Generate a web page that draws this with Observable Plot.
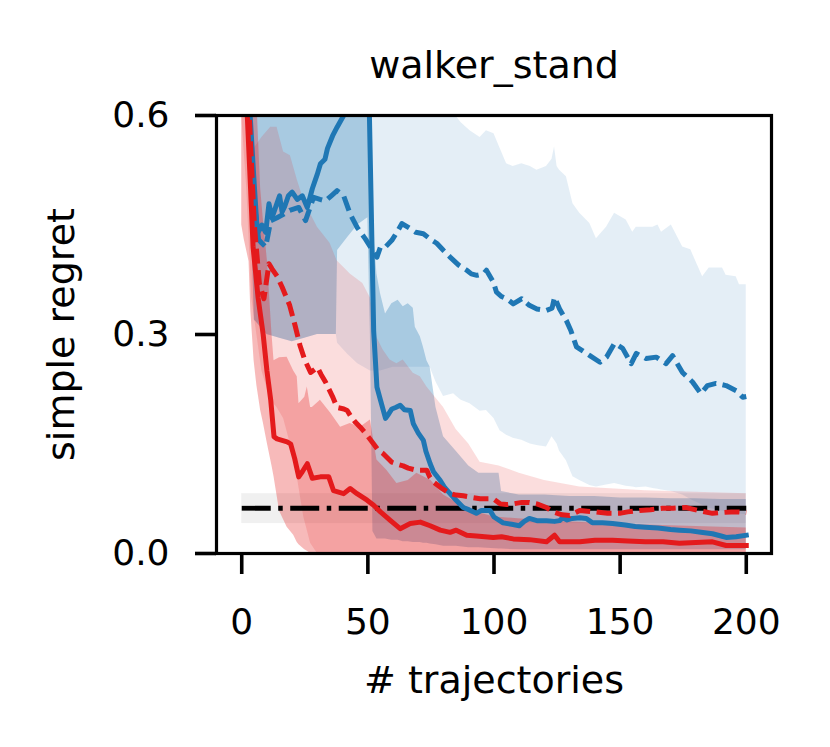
<!DOCTYPE html>
<html><head><meta charset="utf-8">
<script src="https://cdn.jsdelivr.net/npm/d3@7"></script>
<script src="https://cdn.jsdelivr.net/npm/@observablehq/plot@0.6"></script>
<style>body{margin:0;background:#fff}#chart svg{display:block}</style>
</head><body><div id="chart"></div>
<script>
// ---- data (x = # trajectories, y = simple regret) ----
const title = "walker_stand";
const xLabel = "# trajectories";
const yLabel = "simple regret";
const xTicks = [0, 50, 100, 150, 200];
const yTicks = [0, 0.3, 0.6];

// mean curves [x, y]
const blueSolid = [[1,0.85],[3,0.62],[4.7,0.52],[6.2,0.438],[8,0.45],[9.5,0.44],[10.8,0.479],[12,0.46],[13,0.47],[15,0.49],[16,0.468],[17,0.475],[18.5,0.49],[20,0.495],[22,0.485],[24,0.49],[26,0.474],[28,0.5],[30,0.52],[31.2,0.534],[33,0.54],[34,0.555],[36,0.572],[37.8,0.584],[40.4,0.6],[42,0.63],[45,0.7],[49,0.75],[50.5,0.62],[52.3,0.305],[53.6,0.228],[55,0.21],[57,0.185],[58,0.19],[59.5,0.198],[61,0.2],[62.8,0.203],[64.5,0.197],[66.8,0.196],[68,0.178],[70,0.165],[72,0.155],[73,0.14],[74.7,0.123],[76,0.112],[78.7,0.1],[80.5,0.09],[82.6,0.082],[85,0.073],[87.8,0.063],[90,0.06],[93,0.055],[95,0.059],[98.4,0.059],[100,0.05],[103.6,0.042],[107,0.04],[110,0.038],[112,0.044],[114,0.048],[117,0.045],[120.8,0.045],[124,0.044],[126,0.045],[127.3,0.049],[129,0.046],[131,0.048],[134,0.049],[136.6,0.048],[139,0.042],[143,0.042],[147,0.041],[152,0.039],[156,0.037],[160,0.036],[165,0.035],[170,0.033],[173.5,0.032],[178,0.031],[182,0.029],[186.6,0.027],[190,0.024],[192,0.022],[196,0.023],[200,0.025]];
const blueDashed = [[1,0.85],[3,0.6],[5,0.48],[6.7,0.43],[8,0.425],[9.5,0.42],[11.5,0.456],[14,0.46],[16.7,0.465],[19,0.47],[22.6,0.474],[25.3,0.456],[28.5,0.488],[31,0.485],[33.2,0.483],[35.5,0.49],[37.8,0.497],[40.4,0.49],[43,0.465],[45.7,0.447],[49,0.431],[51,0.42],[53.6,0.406],[55,0.42],[57,0.42],[59.5,0.429],[61.5,0.44],[63.5,0.452],[66.8,0.445],[69,0.44],[72,0.438],[75,0.43],[77.3,0.425],[80,0.415],[82.6,0.406],[86,0.395],[89.2,0.388],[91,0.383],[93.2,0.381],[95.8,0.383],[97,0.388],[99.7,0.372],[101,0.358],[103,0.352],[105,0.349],[107.6,0.342],[111,0.349],[114,0.34],[117,0.335],[120.8,0.333],[123,0.336],[124,0.351],[126,0.335],[128.7,0.319],[130.5,0.305],[132.7,0.283],[135,0.278],[138,0.271],[142,0.262],[144.6,0.269],[147.8,0.288],[151,0.281],[154.4,0.26],[156.4,0.274],[160.3,0.267],[164.3,0.269],[168.2,0.26],[170.8,0.271],[174.7,0.248],[178.7,0.235],[182,0.219],[184.6,0.23],[188,0.233],[192,0.23],[196,0.223],[198.6,0.214],[200,0.215]];
const redSolid = [[1,0.8],[2.2,0.6],[3.5,0.5],[4.5,0.42],[6.5,0.35],[8.5,0.3],[10,0.25],[11.5,0.21],[12.8,0.16],[14,0.157],[16,0.155],[18,0.153],[19.4,0.15],[21,0.13],[22.6,0.105],[24,0.112],[26,0.123],[28,0.103],[31.2,0.105],[34.5,0.105],[36.4,0.086],[40.4,0.082],[43,0.089],[45.7,0.082],[49.7,0.073],[52.3,0.066],[55,0.057],[59,0.045],[62.8,0.034],[66.8,0.041],[70.8,0.043],[74.7,0.038],[78.7,0.032],[82.6,0.029],[85,0.032],[89.2,0.025],[93,0.024],[99.7,0.022],[103,0.023],[107.6,0.02],[114,0.019],[120.8,0.016],[124,0.025],[126,0.016],[134,0.016],[140,0.018],[147,0.018],[153,0.017],[160,0.016],[167,0.016],[173.5,0.014],[180,0.015],[186.6,0.016],[192,0.011],[200,0.011]];
const redDashed = [[1,0.8],[3,0.6],[5,0.45],[7,0.37],[8.8,0.349],[10.8,0.397],[12,0.39],[14,0.38],[16,0.365],[17.8,0.35],[19,0.34],[21.1,0.313],[23.1,0.285],[25,0.265],[27.3,0.248],[30,0.255],[31.5,0.245],[33.2,0.235],[36,0.215],[37.8,0.2],[40.5,0.198],[41.8,0.196],[43.2,0.188],[45,0.18],[47,0.173],[49,0.165],[52.3,0.15],[54,0.142],[56,0.137],[59.5,0.125],[62,0.122],[64,0.12],[66,0.117],[69.4,0.114],[73.4,0.114],[74.5,0.105],[76,0.098],[79,0.09],[82.6,0.082],[85,0.08],[87.8,0.079],[91,0.077],[94.5,0.075],[99.7,0.075],[102.4,0.068],[105,0.067],[107.6,0.068],[111,0.07],[114,0.07],[117,0.068],[120.8,0.063],[123.4,0.057],[127,0.053],[130,0.052],[134,0.059],[137,0.058],[140,0.057],[145,0.055],[149.8,0.055],[153,0.057],[157.7,0.059],[162,0.06],[166.8,0.062],[171,0.062],[176,0.063],[181,0.059],[186.6,0.055],[190,0.056],[194,0.057],[197,0.057],[200,0.056]];

// spread bands [x, low, high]
const blueSolidBand = [[3.5,0.5,0.9],[5,0.32,0.9],[10,0.3,0.9],[15,0.295,0.9],[20,0.29,0.9],[25,0.295,0.9],[30,0.3,0.9],[35,0.3,0.9],[37.5,0.3,0.9],[38,0.415,0.9],[42,0.433,0.9],[46,0.45,0.9],[50,0.46,0.9],[51,0.3,0.9],[52,0.03,0.45],[53.6,0.02,0.383],[55,0.02,0.356],[57,0.02,0.328],[59.5,0.018,0.342],[62,0.018,0.347],[64,0.016,0.338],[66,0.016,0.342],[68,0.015,0.336],[68.8,0.015,0.31],[70.8,0.015,0.297],[72,0.014,0.283],[73.4,0.014,0.264],[74.7,0.013,0.255],[77,0.012,0.2],[80,0.01,0.16],[85,0.01,0.14],[90,0.008,0.12],[94,0.008,0.11],[102,0.006,0.11],[103,0.006,0.085],[110,0.005,0.08],[120,0.005,0.08],[130,0.005,0.078],[140,0.005,0.078],[150,0.005,0.076],[160,0.005,0.076],[170,0.005,0.075],[180,0.005,0.075],[190,0.005,0.074],[200,0.005,0.074]];
const blueDashedBand = [[3.5,0.5,0.9],[5,0.32,0.9],[10,0.3,0.9],[20,0.29,0.9],[30,0.3,0.9],[37.5,0.3,0.9],[38,0.288,0.9],[42,0.273,0.9],[46,0.26,0.9],[51,0.25,0.9],[55,0.25,0.9],[60,0.255,0.9],[65,0.255,0.9],[70,0.255,0.9],[74.7,0.255,0.9],[77,0.235,0.9],[80,0.215,0.9],[84,0.219,0.9],[85.2,0.215,0.598],[87,0.21,0.59],[90.5,0.205,0.579],[94.5,0.195,0.57],[97,0.196,0.579],[100,0.185,0.575],[102.4,0.168,0.555],[105,0.162,0.534],[107.6,0.158,0.53],[111,0.155,0.534],[114.4,0.15,0.53],[117,0.148,0.525],[120.8,0.146,0.53],[123,0.16,0.54],[124,0.155,0.557],[125,0.15,0.53],[126,0.14,0.525],[128.7,0.127,0.516],[131.3,0.105,0.479],[134,0.1,0.466],[138,0.093,0.452],[140.6,0.091,0.431],[144.6,0.094,0.447],[147.8,0.096,0.466],[152.4,0.092,0.457],[155,0.091,0.44],[156.4,0.09,0.447],[160.3,0.091,0.447],[163,0.089,0.447],[165,0.088,0.45],[166.4,0.087,0.44],[170.3,0.085,0.45],[174.8,0.08,0.42],[178,0.074,0.416],[182.7,0.066,0.379],[185.3,0.062,0.391],[190.6,0.058,0.391],[192,0.057,0.381],[196,0.055,0.379],[197.3,0.054,0.368],[200,0.053,0.368]];
const redSolidBand = [[0,0.45,0.9],[1,0.43,0.9],[2.9,0.4,0.9],[3.6,0.333,0.9],[4.9,0.264,0.9],[6,0.23,0.62],[7.5,0.196,0.5],[8.5,0.18,0.46],[10.2,0.15,0.4],[12,0.12,0.3],[12.8,0.105,0.264],[15,0.058,0.268],[18,0.036,0.269],[20.6,0.025,0.25],[22,0.015,0.242],[22.7,0.012,0.205],[25,0.005,0.214],[26,0.003,0.228],[27.3,0,0.2],[28,0,0.2],[31.2,0,0.21],[35.3,0,0.192],[39.2,0,0.173],[43,0,0.178],[47,0,0.173],[51,0,0.183],[53.6,0,0.128],[57.5,0,0.114],[61.5,0,0.096],[66,0,0.1],[69.4,0,0.11],[75,0,0.1],[80,0,0.08],[90,0,0.06],[100,0,0.05],[120,0,0.045],[150,0,0.04],[200,0,0.035]];
const redDashedBand = [[0,0.6,0.9],[2,0.5,0.9],[4,0.35,0.55],[8,0.25,0.57],[11.5,0.21,0.584],[14,0.2,0.584],[16.6,0.185,0.55],[19.3,0.15,0.545],[22,0.105,0.512],[24.6,0.05,0.484],[27.3,0.014,0.465],[30,0,0.447],[35,0,0.425],[37.8,0,0.401],[43,0,0.383],[48,0,0.37],[51,0,0.35],[53.6,0,0.296],[56,0,0.279],[58.8,0,0.265],[61.5,0,0.26],[64,0,0.265],[68,0,0.247],[70.8,0,0.242],[73.4,0,0.228],[80,0,0.2],[85,0,0.17],[90,0,0.15],[94.5,0,0.125],[102,0,0.12],[110,0,0.11],[120,0,0.1],[134,0,0.091],[160,0,0.086],[200,0,0.082]];

// reference (dash-dot) level and its band
const refX = [0, 200];
const refLevel = 0.062;
const refBand = [0.041, 0.082];

const blue = "#1f77b4", red = "#e41a1c";
const toRows = a => a.map(([x, y]) => ({x, y}));
const toBand = a => a.map(([x, lo, hi]) => ({x, lo, hi}));
const refRows = refX.map(x => ({x, y: refLevel}));
const refBandRows = [{x1: refX[0], x2: refX[1], y1: refBand[0], y2: refBand[1]}];

const band = (d, color, op) => Plot.areaY(toBand(d), {x: "x", y1: "lo", y2: "hi", fill: color, fillOpacity: op, clip: true, curve: "linear"});
const line = (d, color, dash) => Plot.line(toRows(d), {x: "x", y: "y", stroke: color, strokeWidth: 5, clip: true,
  strokeDasharray: dash, strokeLinecap: dash ? "butt" : "square", strokeLinejoin: "round"});

const chart = Plot.plot({
  width: 830, height: 747,
  marginLeft: 216, marginRight: 59, marginTop: 115, marginBottom: 194,
  x: {domain: [-10, 210]},
  y: {domain: [0, 0.6]},
  style: {fontFamily: "DejaVu Sans", background: "white", color: "black"},
  marks: [
    Plot.rect(refBandRows, {x1: "x1", x2: "x2", y1: "y1", y2: "y2", fill: "black", fillOpacity: 0.06}),
    band(blueSolidBand, blue, 0.3),
    band(blueDashedBand, blue, 0.12),
    band(redSolidBand, red, 0.3),
    band(redDashedBand, red, 0.15),
    Plot.line(refRows, {x: "x", y: "y", stroke: "black", strokeWidth: 4.8, strokeDasharray: "29,7.5,4.5,7.5", strokeLinecap: "butt"}),
    line(blueSolid, blue, null),
    line(blueDashed, blue, "15,6.5"),
    line(redSolid, red, null),
    line(redDashed, red, "15,6.5"),
    Plot.frame({stroke: "black", strokeWidth: 3.2}),
    Plot.axisX({ticks: xTicks, tickSize: 21, tickPadding: 34, fontSize: 36, strokeWidth: 3.6, label: null}),
    Plot.axisY({ticks: yTicks, tickSize: 21, tickPadding: 26, fontSize: 36, strokeWidth: 3.6, label: null, tickFormat: d3.format(".1f")}),
    Plot.text([title], {text: d => d, frameAnchor: "top", dy: -64, fontSize: 38}),
    Plot.text([xLabel], {text: d => d, frameAnchor: "bottom", dy: 139, fontSize: 38}),
    Plot.text([yLabel], {text: d => d, frameAnchor: "left", textAnchor: "middle", dx: -155, rotate: -90, fontSize: 38})
  ]
});
document.getElementById("chart").append(chart);
</script></body></html>
